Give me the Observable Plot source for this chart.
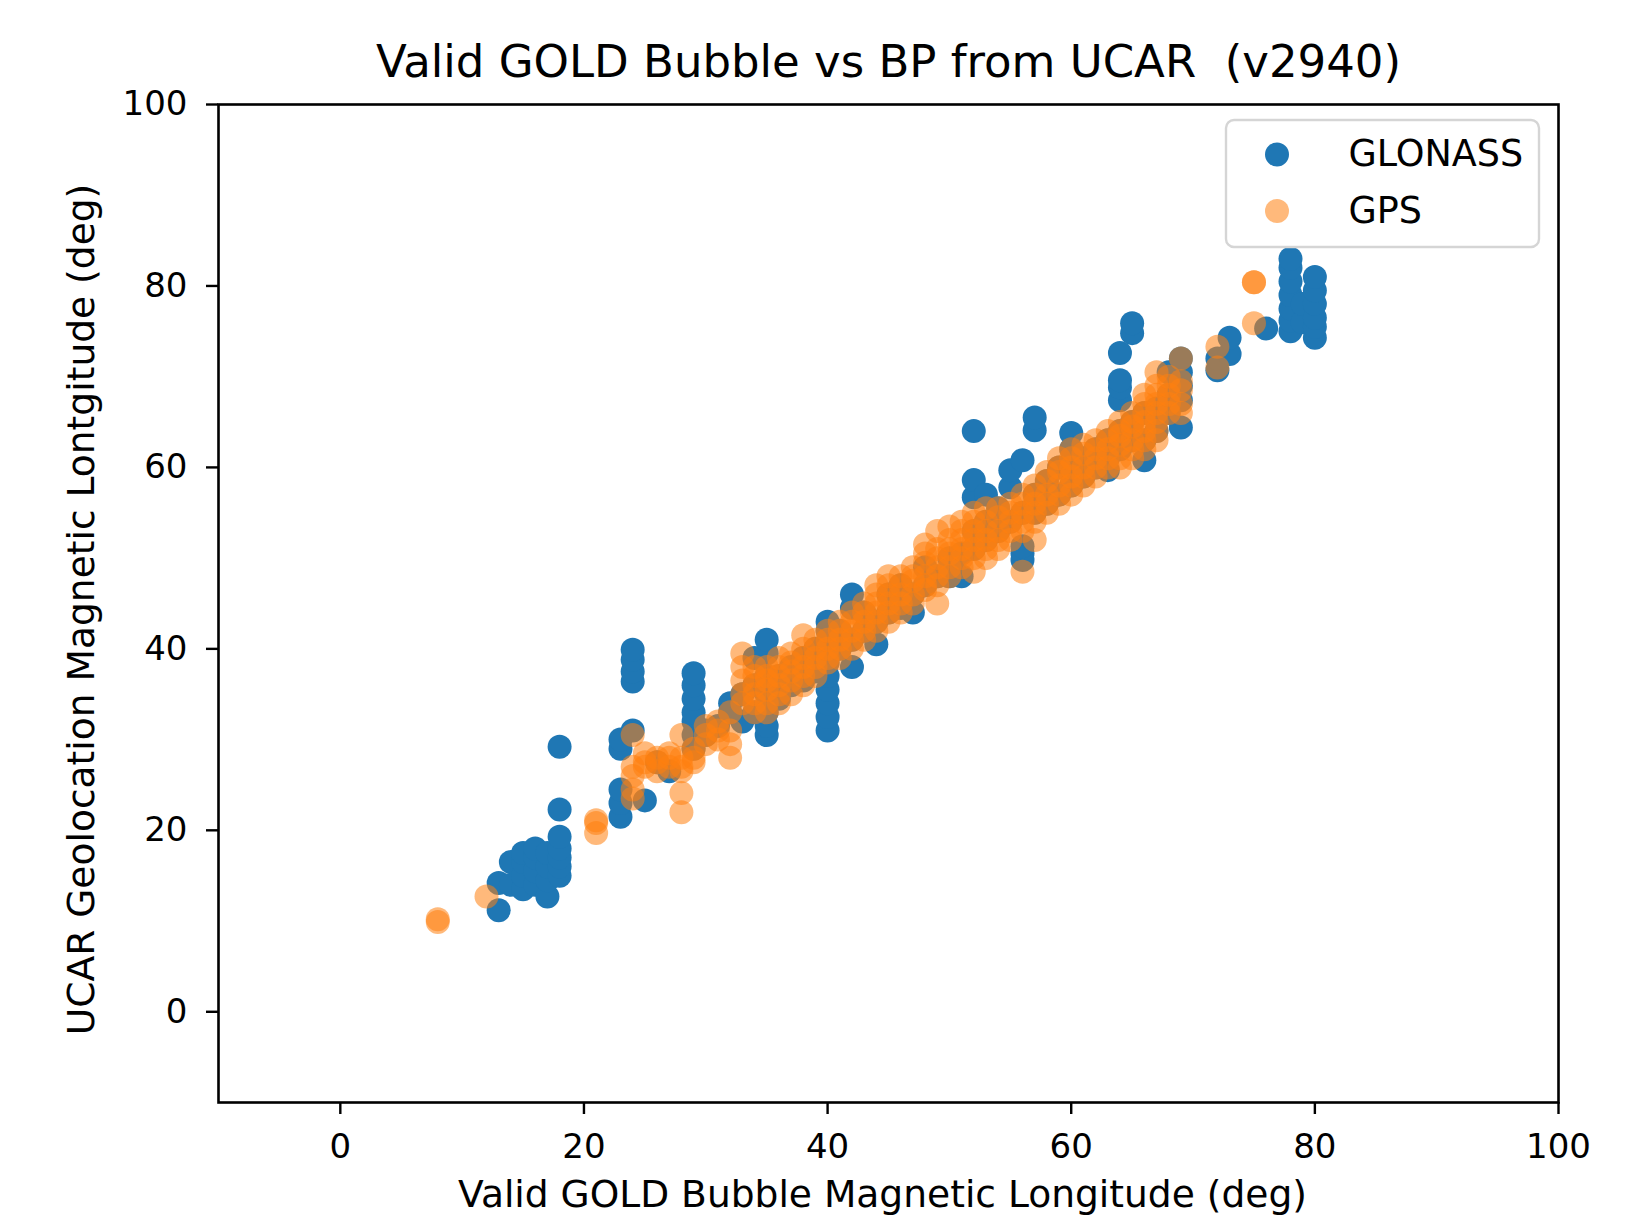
<!DOCTYPE html>
<html><head><meta charset="utf-8">
<script src="https://cdn.jsdelivr.net/npm/d3@7"></script>
<script src="https://cdn.jsdelivr.net/npm/@observablehq/plot@0.6"></script>
<style>body{margin:0;background:#fff;} svg{display:block}</style>
</head><body><div id="chart"></div>
<script>
const titleText = "Valid GOLD Bubble vs BP from UCAR  (v2940)";
const xLabel = "Valid GOLD Bubble Magnetic Longitude (deg)";
const yLabel = "UCAR Geolocation Magnetic Lontgitude (deg)";
const xTicks = [0, 20, 40, 60, 80, 100];
const yTicks = [0, 20, 40, 60, 80, 100];
const seriesNames = ["GLONASS", "GPS"];
const seriesColors = ["#1f77b4", "#ff7f0e"];

// GLONASS points [bubble mlon, UCAR mlon]
const glonass = [
[13,11.2],[13,14.2],
[14,14],[14,16.5],
[15,13.5],[15,15],[15,16.5],[15,17.5],
[16,14],[16,15.5],[16,17],[16,18],
[17,12.7],[17,14.5],[17,16],[17,17.5],
[18,15],[18,16],[18,17],[18,18],[18,19.3],[18,22.3],[18,29.2],
[23,21.5],[23,23],[23,24.5],[23,29],[23,30],
[24,31],[24,36.4],[24,37.5],[24,38.8],[24,39.9],
[25,23.3],[26,27.5],[27,26.5],
[29,29],[29,30.5],[29,32],[29,33],[29,34.5],[29,36],[29,37.3],
[30,30.5],[30,31],[31,31.5],[32,33],[32,34],[33,32],[33,35],
[34,33],[34,36],[34,39],
[35,30.5],[35,31.5],[35,33],[35,35],[35,37],[35,39.5],[35,41],
[36,34.5],[36,37],[37,36],[37,38],[38,36.5],[38,39],[39,37.5],[39,40],
[40,31],[40,32.5],[40,34],[40,35.5],[40,37],[40,38.5],[40,40],[40,42],[40,43],
[41,40],[41,42],[42,38],[42,41],[42,44.5],[42,46],[43,42],[43,44],[44,40.5],[44,43],
[45,44],[45,46],[46,44.5],[46,47],[47,44],[47,46],[48,47],[48,49],[49,48],[50,48],[50,50],[51,48],[51,50.5],
[52,51],[52,53],[52,56.7],[52,58.6],[52,64],
[53,52],[53,54],[53,57],[54,53],[54,55.5],
[55,54],[55,57.8],[55,59.7],
[56,49.8],[56,50.5],[56,51.3],[56,55],[56,60.8],
[57,55],[57,57],[57,64.1],[57,65.5],
[58,56],[58,58.5],[59,57],[59,60],
[60,58],[60,60],[60,62],[60,63.8],
[61,59],[61,61],[62,60],[62,62],[63,59.7],[63,61],[63,63],
[64,62],[64,64],[64,67.4],[64,68.8],[64,69.6],[64,72.6],
[65,63],[65,65],[65,74.8],[65,75.9],
[66,60.8],[66,63],[66,66],[67,64],[67,66.5],
[68,66],[68,68],[68,70.5],
[69,64.4],[69,67.4],[69,69],[69,70.5],[69,72],
[72,70.7],[72,72],[73,72.5],[73,74.3],
[76,75.3],
[78,75],[78,76.2],[78,77.5],[78,79],[78,80.5],[78,82],[78,83],
[79,76],[79,78],
[80,74.3],[80,75.5],[80,76.5],[80,78],[80,79.5],[80,81]
];

// GPS points [bubble mlon, UCAR mlon]
const gps = [
[8,9.9],[8,10.2],[12,12.7],
[21,19.7],[21,20.8],[21,21.1],
[24,23.5],[24,24.5],[24,26],[24,27],[24,30.5],
[25,27],[25,27.5],[25,28.5],[26,26.5],[26,27.5],[26,28],[27,27],[27,28],[27,28.5],
[28,22],[28,24.1],[28,26.5],[28,27],[28,28],[28,30.5],
[29,27.5],[29,28],[29,29],[30,29.5],[30,30.5],[30,31.5],[31,30],[31,31],[31,32],
[32,28],[32,29.5],[32,31],[32,33],
[33,34],[33,35],[33,36.5],[33,38],[33,39.5],
[34,33],[34,34],[34,35],[34,36],[34,37],[34,38],
[35,33],[35,34],[35,35.5],[35,36.5],[35,37],[35,38],
[36,34],[36,35],[36,36],[36,37],[36,38],[36,39],
[37,35],[37,36.5],[37,37.5],[37,38.5],[37,39.5],
[38,36],[38,37],[38,38],[38,39],[38,40],[38,41.5],
[39,37],[39,38],[39,39],[39,40],[39,41],
[40,38.5],[40,39],[40,40],[40,41],[40,42],
[41,39],[41,40],[41,41],[41,42],[41,43],
[42,40],[42,41],[42,42],[42,43],[42,44],
[43,41],[43,42],[43,43],[43,44],[43,45],
[44,42],[44,43],[44,44],[44,45],[44,46],[44,47],
[45,43],[45,44],[45,45],[45,46],[45,47],[45,48],
[46,44],[46,45],[46,46],[46,47],[46,48],
[47,45],[47,46],[47,47.5],[47,48],[47,49],
[48,46.5],[48,47],[48,48],[48,49.5],[48,50.5],[48,51.5],
[49,45],[49,47],[49,48],[49,49],[49,50],[49,51],[49,53],
[50,48],[50,49],[50,50.5],[50,51],[50,52],[50,53.5],
[51,49],[51,50],[51,51],[51,52],[51,53],[51,54],
[52,48.5],[52,50],[52,51],[52,52],[52,53],[52,54],[52,55],
[53,50],[53,51],[53,52],[53,53],[53,54],[53,55.5],
[54,51],[54,52],[54,53],[54,54.5],[54,55.5],
[55,52],[55,53],[55,54],[55,55],[55,56],
[56,48.5],[56,53],[56,54],[56,55],[56,56],[56,57],
[57,52],[57,54],[57,55],[57,56],[57,57],[57,58],
[58,55],[58,56],[58,57],[58,58.5],[58,59.5],
[59,56],[59,57],[59,58],[59,59.5],[59,60],[59,61],
[60,57],[60,58],[60,59],[60,60],[60,61],[60,62],
[61,58],[61,59],[61,60],[61,61.5],[61,62.5],
[62,59],[62,60],[62,61],[62,62],[62,63],
[63,60],[63,61],[63,62],[63,63],[63,64],
[64,60],[64,61],[64,62.5],[64,63.5],[64,64],[64,65],
[65,61],[65,62],[65,63],[65,64.5],[65,65],[65,66],
[66,62],[66,63],[66,64],[66,65],[66,66],[66,67],[66,68],
[67,63],[67,64],[67,65],[67,66],[67,67],[67,68],[67,69],[67,70.5],
[68,66],[68,67],[68,68],[68,69],[68,70],
[69,66],[69,67],[69,68.5],[69,69.5],[69,72],
[72,71],[72,73.3],[75,75.9],[75,80.4],[75,80.4]
];

const W = 1642, H = 1220, mL = 218, mR = 84, mT = 104, mB = 118;
const font = "'DejaVu Sans', sans-serif";
const R = 12;

const chart = Plot.plot({
  width: W, height: H,
  marginLeft: mL, marginRight: mR, marginTop: mT, marginBottom: mB,
  style: {fontFamily: font, fontSize: "34px", color: "#000", background: "#fff"},
  x: {domain: [-10, 100], label: null},
  y: {domain: [-10, 100], label: null},
  marks: [
    Plot.dot(glonass, {x: d => d[0], y: d => d[1], r: R, fill: seriesColors[0], stroke: "none"}),
    Plot.dot(gps, {x: d => d[0], y: d => d[1], r: R, fill: seriesColors[1], fillOpacity: 0.55, stroke: "none"}),
    Plot.frame({stroke: "#000", strokeWidth: 2.6}),
    Plot.axisX({ticks: xTicks, tickSize: 12, tickPadding: 19, strokeWidth: 2.4, fontSize: 34, label: null}),
    Plot.axisY({ticks: yTicks, tickSize: 12, tickPadding: 19, strokeWidth: 2.4, fontSize: 34, label: null}),
    Plot.text([titleText], {text: d => d, frameAnchor: "top", textAnchor: "middle", lineAnchor: "middle", dy: -42, fontSize: 45}),
    Plot.text([xLabel], {text: d => d, frameAnchor: "bottom", textAnchor: "middle", lineAnchor: "middle", dx: -6, dy: 92, fontSize: 37.6}),
    Plot.text([yLabel], {text: d => d, frameAnchor: "left", textAnchor: "middle", lineAnchor: "middle", dx: -137, dy: 6, rotate: -90, fontSize: 37.6}),
    Plot.dot([seriesNames[0]], {frameAnchor: "top-right", dx: -281.5, dy: 50, r: R, fill: seriesColors[0]}),
    Plot.dot([seriesNames[1]], {frameAnchor: "top-right", dx: -281.5, dy: 106.5, r: R, fill: seriesColors[1], fillOpacity: 0.55}),
    Plot.text([seriesNames[0]], {text: d => d, frameAnchor: "top-right", dx: -210, dy: 50, textAnchor: "start", lineAnchor: "middle", fontSize: 36.5}),
    Plot.text([seriesNames[1]], {text: d => d, frameAnchor: "top-right", dx: -210, dy: 106.5, textAnchor: "start", lineAnchor: "middle", fontSize: 36.5})
  ]
});

// legend box (behind legend entries, above data)
const dotGroups = chart.querySelectorAll('g[aria-label="dot"]');
const firstLegend = dotGroups[2];
const box = document.createElementNS("http://www.w3.org/2000/svg", "rect");
const bx1 = W - mR - 19, by1 = mT + 16;
box.setAttribute("x", bx1 - 313);
box.setAttribute("y", by1);
box.setAttribute("width", 313);
box.setAttribute("height", 127);
box.setAttribute("rx", 8);
box.setAttribute("fill", "#fff");
box.setAttribute("fill-opacity", 0.8);
box.setAttribute("stroke", "#d5d5d5");
box.setAttribute("stroke-width", 2.4);
if (firstLegend) firstLegend.parentNode.insertBefore(box, firstLegend);
document.getElementById("chart").appendChild(chart);
</script>
</body></html>
